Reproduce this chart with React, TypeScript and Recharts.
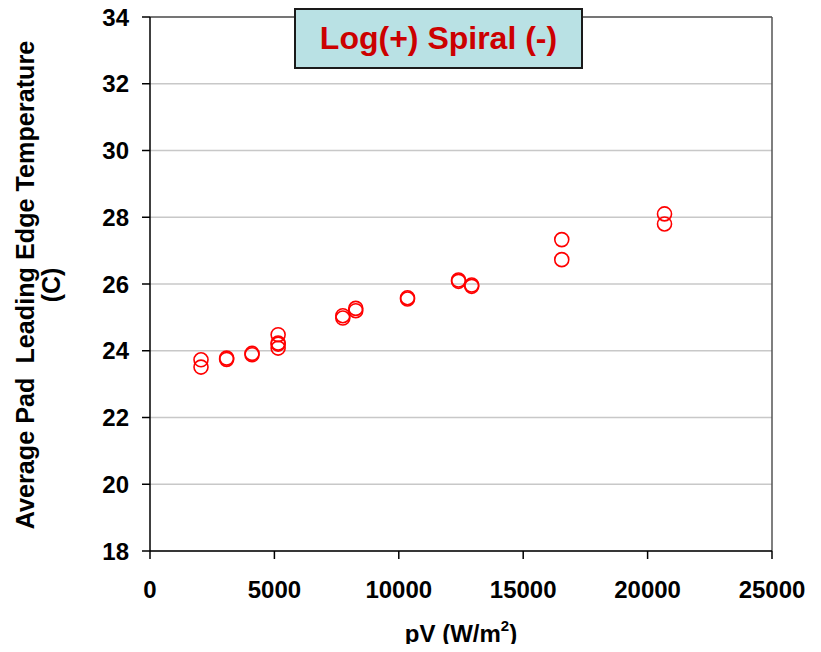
import React from "react";
import { ScatterChart, Scatter, XAxis, YAxis, CartesianGrid, ReferenceLine } from "recharts";

const pvValues = [2050, 2050, 3080, 3080, 4100, 4100, 5150, 5150, 5150, 5150, 7750, 7750, 8270, 8270, 10350, 10350, 12400, 12400, 12930, 12930, 16550, 16550, 20680, 20680];
const tempValues = [23.73, 23.51, 23.78, 23.74, 23.88, 23.92, 24.48, 24.23, 24.08, 24.2, 24.98, 25.05, 25.2, 25.27, 25.55, 25.59, 26.12, 26.08, 25.93, 25.97, 27.33, 26.73, 28.1, 27.8];
const xTicks = [0, 5000, 10000, 15000, 20000, 25000];
const yTicks = [18, 20, 22, 24, 26, 28, 30, 32, 34];
const titleText = "Log(+) Spiral (-)";
const xLabelMain = "pV (W/m";
const yLabelLine1 = "Average Pad  Leading Edge Temperature";
const yLabelLine2 = "(C)";

const data = pvValues.map((x, i) => ({ x, y: tempValues[i] }));
const FONT = "'Liberation Sans', Arial, Helvetica, sans-serif";

const Ring = (props: any) => (
  <circle cx={props.cx} cy={props.cy} r={7} fill="none" stroke="#ff0000" strokeWidth={1.6} />
);

const XLabel = (props: any) => {
  const vb = props.viewBox || {};
  const cx = vb.x + vb.width / 2;
  return (
    <text x={cx} y={634} textAnchor="middle" fontFamily={FONT} fontWeight="bold" fontSize={24} fill="#000">
      {xLabelMain}
      <tspan fontSize={15} dy={-11}>2</tspan>
      <tspan dy={11}>)</tspan>
    </text>
  );
};

const YLabel = () => {
  const cy = 9 + 268;
  return (
    <g>
      <text x={17} y={cy} transform={`rotate(-90, 17, ${cy})`} textAnchor="middle" dominantBaseline="central" fontFamily={FONT} fontWeight="bold" fontSize={25.2} fill="#000" style={{ whiteSpace: "pre" }}>
        {yLabelLine1}
      </text>
      <text x={43} y={cy} transform={`rotate(-90, 43, ${cy})`} textAnchor="middle" dominantBaseline="central" fontFamily={FONT} fontWeight="bold" fontSize={25} fill="#000">
        {yLabelLine2}
      </text>
    </g>
  );
};

export default function App() {
  return (
    <div style={{ position: "relative", width: 805, height: 636 }}>
      <style>{`.recharts-surface{overflow:visible}`}</style>
      <ScatterChart width={805} height={636} margin={{ top: 9, right: 41, bottom: 0, left: 0 }}>
        <CartesianGrid vertical={false} stroke="#c8c8c8" strokeWidth={1.5} />
        <XAxis
          type="number"
          dataKey="x"
          domain={[0, 25000]}
          ticks={xTicks}
          interval={0}
          height={93}
          tickSize={8}
          tickMargin={22}
          axisLine={{ stroke: "#000", strokeWidth: 1.5 }}
          tickLine={{ stroke: "#000", strokeWidth: 1.5 }}
          tick={{ fill: "#000", fontFamily: FONT, fontWeight: "bold", fontSize: 24 }}
          label={<XLabel />}
        />
        <YAxis
          type="number"
          dataKey="y"
          domain={[18, 34]}
          ticks={yTicks}
          interval={0}
          width={142}
          tickSize={8}
          tickMargin={13}
          axisLine={{ stroke: "#000", strokeWidth: 1.5 }}
          tickLine={{ stroke: "#000", strokeWidth: 1.5 }}
          tick={{ fill: "#000", fontFamily: FONT, fontWeight: "bold", fontSize: 24 }}
          label={<YLabel />}
        />
        <ReferenceLine y={34} stroke="#555" strokeWidth={1.5} />
        <ReferenceLine x={25000} stroke="#555" strokeWidth={1.5} />
        <Scatter data={data} shape={<Ring />} isAnimationActive={false} />
      </ScatterChart>
      <div
        style={{
          position: "absolute",
          left: 286,
          top: 0,
          width: 289,
          height: 61,
          boxSizing: "border-box",
          border: "2.5px solid #1a1a1a",
          background: "#b9e1e4",
          display: "flex",
          alignItems: "center",
          justifyContent: "center",
          fontFamily: FONT,
          fontWeight: "bold",
          fontSize: 32,
          color: "#cc0000",
        }}
      >
        {titleText}
      </div>
    </div>
  );
}
